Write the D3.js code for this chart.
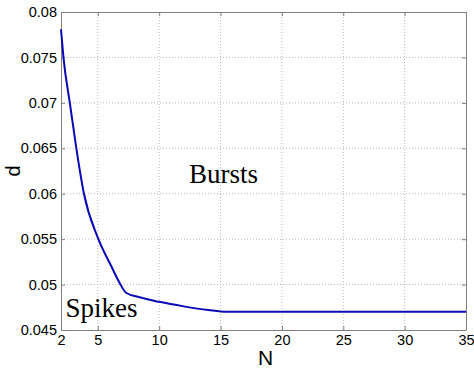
<!DOCTYPE html>
<html>
<head>
<meta charset="utf-8">
<script src="https://cdn.jsdelivr.net/npm/d3@7"></script>
<style>
  body { margin: 0; background: #fff; }
  svg { display: block; }
</style>
</head>
<body>
<svg id="chart"></svg>
<script>
// curve d(N)
const nValues = [2, 2.2, 2.72, 3.25, 3.87, 4.99, 6.07, 6.81, 7.3, 8.4, 10, 12, 14, 15.5, 17, 20, 25, 30, 35];
const dValues = [0.0781, 0.075, 0.070, 0.065, 0.060, 0.0552, 0.0521, 0.0501, 0.0491, 0.0486, 0.0481, 0.0476, 0.0472, 0.0470, 0.0470, 0.0470, 0.0470, 0.0470, 0.0470];

const xTicks = [2, 5, 10, 15, 20, 25, 30, 35];
const yTicks = [0.045, 0.05, 0.055, 0.06, 0.065, 0.07, 0.075, 0.08];
const yTickLabels = ['0.045', '0.05', '0.055', '0.06', '0.065', '0.07', '0.075', '0.08'];

const width = 474;
const height = 372;
const margin = { top: 12, right: 8, bottom: 42, left: 61 };

const svg = d3.select('#chart')
  .attr('width', width)
  .attr('height', height);

const x = d3.scaleLinear()
  .domain([2, 35])
  .range([margin.left, width - margin.right]);

const y = d3.scaleLinear()
  .domain([0.045, 0.08])
  .range([height - margin.bottom, margin.top]);

const axisColor = '#808080';

// grid
svg.append('g')
  .selectAll('line')
  .data(xTicks.slice(1, -1))
  .join('line')
  .attr('x1', d => x(d)).attr('x2', d => x(d))
  .attr('y1', y(0.045)).attr('y2', y(0.08))
  .attr('stroke', '#bbb')
  .attr('stroke-dasharray', '1,2');

svg.append('g')
  .selectAll('line')
  .data(yTicks.slice(1, -1))
  .join('line')
  .attr('x1', x(2)).attr('x2', x(35))
  .attr('y1', d => y(d)).attr('y2', d => y(d))
  .attr('stroke', '#bbb')
  .attr('stroke-dasharray', '1,2');

// axes (MATLAB style: inward ticks on all four sides)
const tickLen = 4;
const xAxis = d3.axisBottom(x).tickValues(xTicks).tickSizeInner(-tickLen).tickSizeOuter(0).tickPadding(8);
const yAxis = d3.axisLeft(y).tickValues(yTicks).tickFormat((d, i) => yTickLabels[i]).tickSizeInner(-tickLen).tickSizeOuter(0).tickPadding(8);

const gx = svg.append('g')
  .attr('transform', `translate(0, ${y(0.045)})`)
  .call(xAxis);
const gy = svg.append('g')
  .attr('transform', `translate(${x(2)}, 0)`)
  .call(yAxis);

svg.append('g')
  .attr('transform', `translate(0, ${y(0.08)})`)
  .call(d3.axisTop(x).tickValues(xTicks).tickSizeInner(-tickLen).tickSizeOuter(0).tickFormat(''));
svg.append('g')
  .attr('transform', `translate(${x(35)}, 0)`)
  .call(d3.axisRight(y).tickValues(yTicks).tickSizeInner(-tickLen).tickSizeOuter(0).tickFormat(''));

svg.selectAll('.domain').attr('stroke', axisColor);
svg.selectAll('.tick line').attr('stroke', axisColor);
svg.selectAll('.tick text')
  .attr('fill', '#000')
  .style('font-family', 'Liberation Sans, Arial, sans-serif')
  .style('font-size', '14.5px');
gx.selectAll('.tick text').attr('dy', '0.71em').attr('y', 5);
gy.selectAll('.tick text').attr('x', -4);

// curve
const line = d3.line()
  .x((d, i) => x(nValues[i]))
  .y(d => y(d))
  .curve(d3.curveMonotoneX);

svg.append('path')
  .datum(dValues)
  .attr('d', line)
  .attr('fill', 'none')
  .attr('stroke', '#0a0ab4')
  .attr('stroke-width', 2);

// labels
svg.append('text')
  .attr('x', (x(2) + x(35)) / 2 + 2)
  .attr('y', 365)
  .attr('text-anchor', 'middle')
  .style('font-family', 'Liberation Sans, Arial, sans-serif')
  .style('font-size', '21px')
  .text('N');

svg.append('text')
  .attr('transform', `translate(20, ${(y(0.045) + y(0.08)) / 2}) rotate(-90)`)
  .attr('text-anchor', 'middle')
  .style('font-family', 'Liberation Sans, Arial, sans-serif')
  .style('font-size', '20px')
  .text('d');

svg.append('text')
  .attr('x', 189)
  .attr('y', 183)
  .style('font-family', 'Liberation Serif, Times New Roman, serif')
  .style('font-size', '27px')
  .text('Bursts');

svg.append('text')
  .attr('x', 65.5)
  .attr('y', 317)
  .style('font-family', 'Liberation Serif, Times New Roman, serif')
  .style('font-size', '27px')
  .text('Spikes');
</script>
</body>
</html>
